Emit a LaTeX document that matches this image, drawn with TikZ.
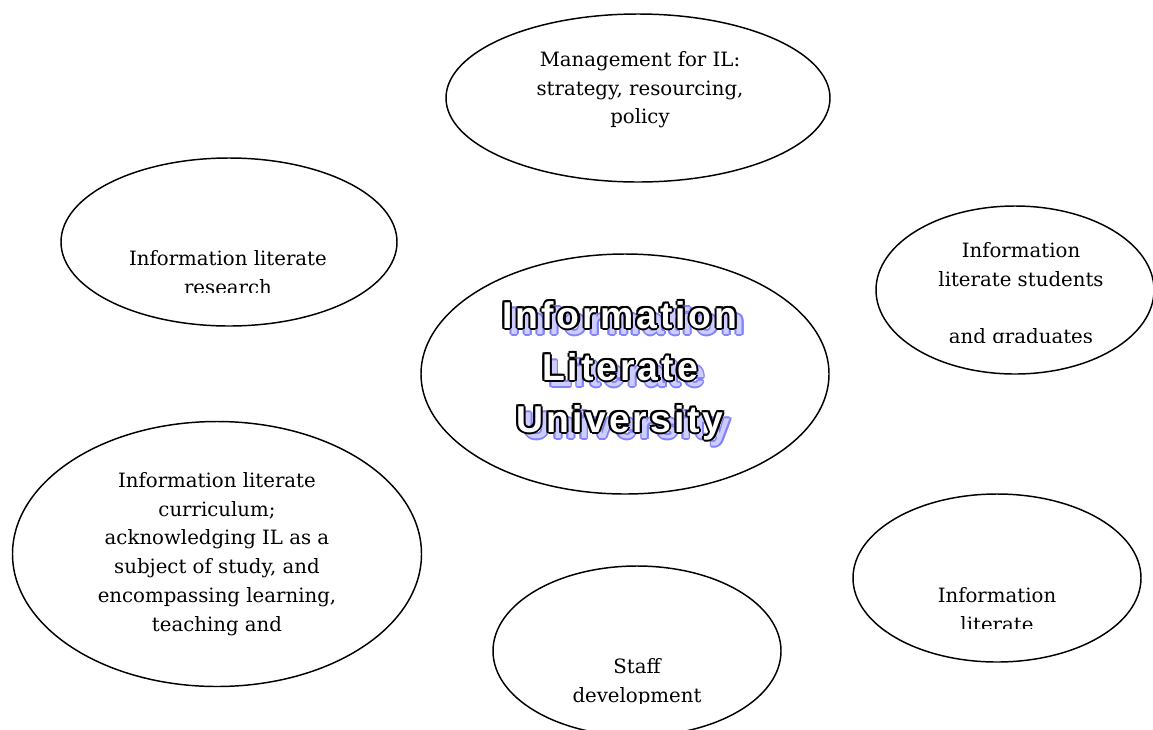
\documentclass[tikz,border=0pt]{standalone}
\usepackage{fontspec}
\setmainfont{DejaVu Serif}
\newfontfamily\titlefamily[LetterSpace=8]{Liberation Sans}
\usepackage{tikz}
\usetikzlibrary{shapes.geometric}

\definecolor{ShadowBlue}{RGB}{130, 130, 250}
\definecolor{ShadowFill}{RGB}{205, 205, 255}
\newcommand\titlewords{Information\\Literate\\University}

\begin{document}
\begin{tikzpicture}[
  x=0.75pt, y=-0.75pt,
  oval/.style={ellipse, draw, line width=1.1pt, inner sep=0pt},
  ovaltext/.style={anchor=north, align=center, inner sep=0pt, font=\fontsize{14.8}{21.6}\selectfont},
  titletext/.style={anchor=north, align=center, inner sep=0pt, font=\titlefamily\bfseries\fontsize{28}{39}\selectfont}
]
\useasboundingbox (0,0) rectangle (1153,729);

% the seven ovals
\node[oval, minimum width=288pt, minimum height=126pt] (mgmt) at (638,98) {};
\node[oval, minimum width=252pt, minimum height=126pt] (research) at (229,242) {};
\node[oval, minimum width=306pt, minimum height=180pt] (centre) at (625,374) {};
\node[oval, minimum width=208.5pt, minimum height=126pt] (students) at (1015,290) {};
\node[oval, minimum width=306.75pt, minimum height=198.75pt] (curriculum) at (217,554) {};
\node[oval, minimum width=216pt, minimum height=127.5pt] (staff) at (637,651) {};
\node[oval, minimum width=216pt, minimum height=126pt] (infolit) at (997,578) {};

% texts, cut off where the boxes end
\node[ovaltext] (mgmt-text) at (640,51) {Management for IL:\\strategy, resourcing,\\policy};
\begin{scope}
  \clip (40,230) rectangle (420,292);
  \node[ovaltext] (research-text) at (228,250) {Information literate\\research};
\end{scope}
\begin{scope}
  \clip (880,230) rectangle (1153,342);
  \node[ovaltext] (students-text) at (1021,242) {Information\\literate students\\ \\and graduates};
\end{scope}
\begin{scope}
  \clip (20,460) rectangle (420,640);
  \node[ovaltext] (curriculum-text) at (217,472) {Information literate\\curriculum;\\acknowledging IL as a\\subject of study, and\\encompassing learning,\\teaching and\\research};
\end{scope}
\begin{scope}
  \clip (500,640) rectangle (780,703);
  \node[ovaltext] (staff-text) at (637,658) {Staff\\development};
\end{scope}
\begin{scope}
  \clip (860,570) rectangle (1140,628);
  \node[ovaltext] (infolit-text) at (997,587) {Information\\literate};
\end{scope}

% outlined title with its blue shadow
\foreach \a [count=\k] in {0,45,...,315}
  \node[titletext, text=ShadowBlue] (shade-\k) at ([shift={(\a:1.8)}]627,307) {\titlewords};
\node[titletext, text=ShadowFill] (shade) at (627,307) {\titlewords};
\foreach \a [count=\k] in {0,45,...,315}
  \node[titletext, text=black] (rim-\k) at ([shift={(\a:2.1)}]620,301) {\titlewords};
\node[titletext, text=white] (title) at (620,301) {\titlewords};
\end{tikzpicture}
\end{document}
